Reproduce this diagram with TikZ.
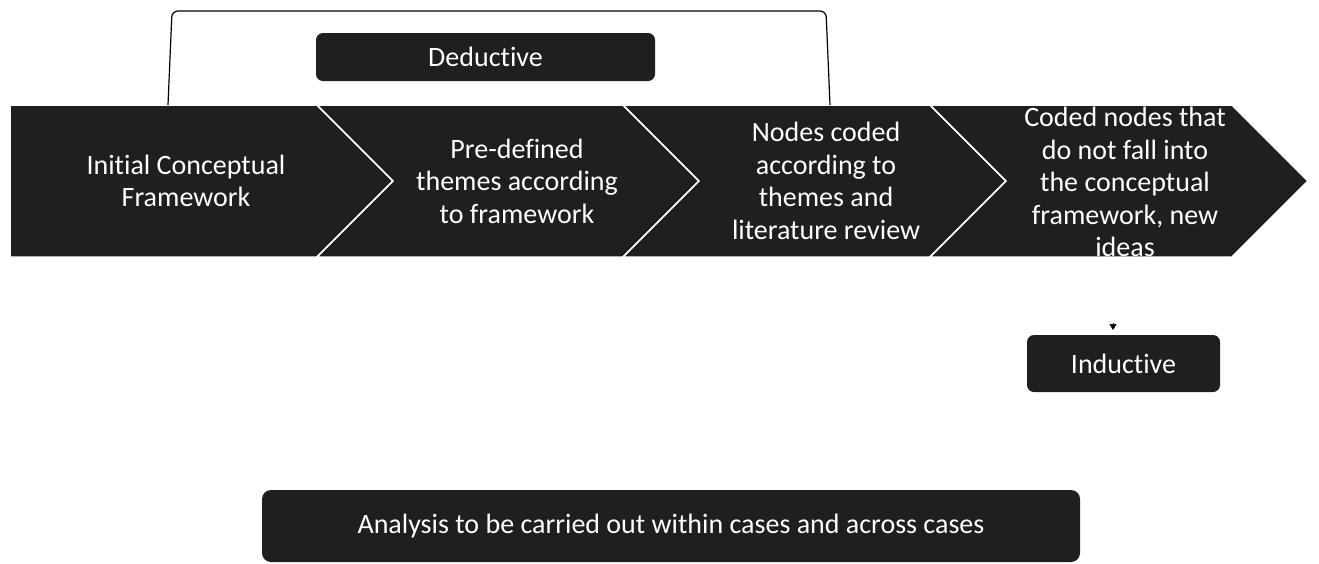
\documentclass[tikz,border=0pt]{standalone}
\usepackage{fontspec}
\setmainfont{Carlito}[RawFeature={-liga;-clig;-calt;-dlig}]
\usetikzlibrary{arrows.meta}
\definecolor{boxfill}{HTML}{1F1F1F}
\tikzset{
  stage/.style={fill=boxfill, draw=white, line width=1.5pt, line join=miter},
  stagetext/.style={text=white, align=center, font=\fontsize{28}{32.5}\selectfont, inner sep=0pt},
  label box/.style={fill=boxfill, rounded corners=7pt, text=white, font=\fontsize{28}{32.5}\selectfont, inner sep=0pt},
  bracket/.style={draw=black, line width=1.2pt, rounded corners=6pt},
}
\begin{document}
\begin{tikzpicture}[x=1pt, y=-1pt]
\useasboundingbox (0,0) rectangle (1319,563);

% process band of four chevrons
\draw[stage] (10,105) -- (317,105) -- (393,181) -- (317,257) -- (10,257) -- cycle;
\draw[stage] (317,105) -- (623,105) -- (699,181) -- (623,257) -- (317,257) -- (393,181) -- cycle;
\draw[stage] (623,105) -- (930,105) -- (1006,181) -- (930,257) -- (623,257) -- (699,181) -- cycle;
\draw[stage] (930,105) -- (1232,105) -- (1308,181) -- (1232,257) -- (930,257) -- (1006,181) -- cycle;

\node[stagetext] (s1) at (186,181) {Ini{}tial Conceptual\\Framework};
\node[stagetext] (s2) at (517,181) {Pre-defined\\themes according\\to framework};
\node[stagetext] (s3) at (826,181) {Nodes coded\\according to\\themes and\\literature review};
\node[stagetext] (s4) at (1125,182) {Coded nodes that\\do not fall into\\the conceptual\\framework, new\\ideas};

% deductive span over the first three stages
\coordinate (dstart) at (168,105);
\coordinate (dend) at (830,105);
\draw[bracket] (dstart) -- (172,11) -- (826,11) -- (dend);

\node[label box, minimum width=339pt, minimum height=48pt] (ded) at (485.5,57) {Deduc{}tive};
\node[label box, minimum width=193pt, minimum height=57pt] (ind) at (1123.5,363.5) {Induc{}tive};
\node[label box, rounded corners=9pt, minimum width=818pt, minimum height=72pt] (ana) at (671,526) {Analysis to be carried out within cases and across cases};

% small arrow into the inductive box
\coordinate (indin) at (1113,323);
\draw[-{Triangle[width=7pt,length=6pt]}, line width=0.6pt] (indin) -- (1113,330);
\end{tikzpicture}
\end{document}
